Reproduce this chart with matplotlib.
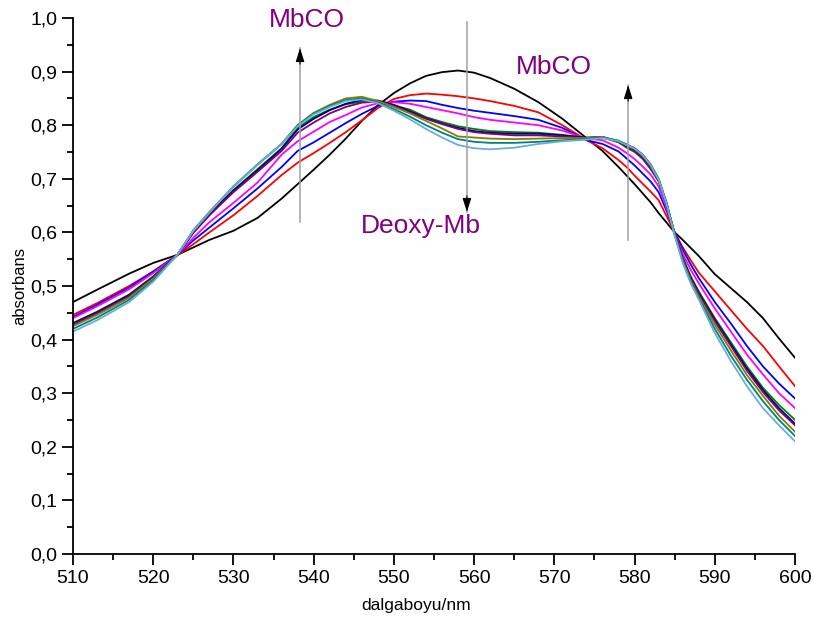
import numpy as np
import matplotlib.pyplot as plt
from matplotlib.ticker import MultipleLocator, FuncFormatter

plt.rcParams['font.family'] = ['Liberation Sans', 'DejaVu Sans']

## donnees
dalga = [510, 513, 517, 520, 523, 525, 527, 530, 533, 536, 538, 540, 542, 544, 546, 548,
         550, 552, 554, 556, 558, 560, 562, 565, 568, 571, 574, 576, 578, 579, 580, 581,
         582, 583, 584, 585, 586, 587, 588, 590, 592, 594, 596, 598, 600]

siyah = [.470, .493, .523, .543, .558, .572, .586, .603, .627, .663, .690, .717, .745, .775, .808, .837,
         .860, .878, .892, .899, .902, .898, .888, .868, .843, .812, .776, .752, .722, .706, .690, .673,
         .656, .636, .618, .600, .586, .571, .556, .522, .496, .470, .440, .402, .366]
kirmizi = [.446, .468, .500, .527, .557, .578, .600, .632, .668, .707, .730, .748, .767, .787, .809, .832,
           .849, .856, .859, .857, .854, .850, .845, .836, .824, .800, .772, .757, .735, .722, .706, .691,
           .676, .660, .630, .600, .572, .548, .525, .490, .455, .420, .388, .350, .313]
mavi = [.442, .465, .497, .527, .558, .585, .609, .645, .682, .722, .752, .768, .786, .804, .821, .836,
        .844, .846, .845, .838, .832, .827, .823, .817, .810, .795, .772, .765, .751, .738, .725, .710,
        .695, .675, .640, .600, .568, .540, .515, .470, .430, .388, .350, .318, .290]
pembe = [.440, .462, .494, .524, .558, .590, .619, .655, .693, .745, .770, .788, .806, .819, .833, .841,
         .843, .840, .834, .828, .822, .815, .810, .805, .800, .790, .775, .772, .758, .748, .737, .723,
         .708, .686, .645, .598, .560, .530, .505, .458, .415, .372, .335, .300, .272]
yesil = [.431, .452, .484, .518, .558, .600, .632, .679, .718, .757, .795, .815, .829, .839, .844, .843,
         .837, .829, .815, .806, .798, .793, .789, .787, .786, .782, .776, .777, .768, .758, .750, .737,
         .718, .695, .652, .597, .553, .518, .490, .440, .395, .350, .310, .278, .250]
lacivert = [.430, .451, .483, .517, .558, .601, .634, .678, .716, .756, .792, .812, .828, .840, .847, .846,
            .838, .826, .813, .803, .795, .789, .786, .784, .784, .781, .777, .778, .769, .761, .753, .740,
            .721, .698, .653, .597, .552, .515, .487, .437, .391, .346, .306, .272, .243]
mor = [.428, .449, .481, .516, .558, .599, .632, .675, .713, .752, .786, .805, .822, .834, .842, .844,
       .836, .824, .812, .802, .793, .787, .784, .781, .781, .779, .776, .778, .769, .760, .752, .739,
       .720, .697, .652, .596, .550, .513, .485, .434, .388, .342, .302, .268, .240]
zeytin = [.425, .446, .478, .514, .558, .603, .637, .685, .726, .765, .800, .823, .838, .850, .853, .845,
          .834, .822, .808, .794, .779, .777, .775, .774, .775, .776, .776, .778, .771, .764, .757, .745,
          .727, .700, .655, .596, .548, .510, .480, .428, .380, .334, .295, .258, .228]
camgobegi = [.420, .441, .474, .511, .558, .604, .638, .686, .727, .765, .800, .822, .836, .847, .850, .842,
             .830, .816, .800, .786, .774, .769, .767, .767, .769, .772, .774, .777, .771, .764, .757, .745,
             .726, .699, .654, .595, .546, .507, .477, .420, .370, .325, .285, .250, .220]
acikmavi = [.415, .436, .470, .508, .558, .603, .637, .686, .726, .765, .798, .820, .834, .845, .848, .841,
            .827, .811, .793, .777, .763, .757, .755, .758, .765, .770, .773, .776, .770, .763, .756, .744,
            .725, .698, .652, .594, .543, .505, .475, .412, .360, .313, .272, .240, .210]

egriler = [siyah, kirmizi, mavi, pembe, yesil, lacivert, mor, zeytin, camgobegi, acikmavi]
renkler = ['black', '#ff0000', '#0000ff', '#ff00ff', '#008000', '#000080', '#800080',
           '#808000', '#008080', '#6aaed6']

## figure
fig = plt.figure(figsize=(8.14, 6.21), dpi=100)
ax = fig.add_axes([0.0897, 0.108, 0.887, 0.863])

for y, c in zip(egriler, renkler):
    ax.plot(dalga, y, color=c, lw=1.3)

# fleches
gri = '#a0a0a0'
def fleche(x, y0, y1):
    ax.plot([x, x], [y0, y1], color=gri, lw=1.1)
    d = 0.03 if y1 > y0 else -0.03
    ax.annotate('', xy=(x, y1), xytext=(x, y1 - d),
                arrowprops=dict(arrowstyle='-|>,head_length=0.7,head_width=0.22',
                                color='black', lw=0.8, mutation_scale=12,
                                shrinkA=0, shrinkB=0))

fleche(538.3, 0.619, 0.944)
fleche(559.1, 0.993, 0.638)
fleche(579.2, 0.586, 0.875)

mor_txt = '#800080'
ax.text(539.1, 0.996, 'MbCO', color=mor_txt, fontsize=19, ha='center', va='center')
ax.text(569.9, 0.909, 'MbCO', color=mor_txt, fontsize=19, ha='center', va='center')
ax.text(553.3, 0.612, 'Deoxy-Mb', color=mor_txt, fontsize=19, ha='center', va='center')

ax.set_xlim(510, 600)
ax.set_ylim(0, 1.0)
ax.xaxis.set_major_locator(MultipleLocator(10))
ax.xaxis.set_minor_locator(MultipleLocator(5))
ax.yaxis.set_major_locator(MultipleLocator(0.1))
ax.yaxis.set_minor_locator(MultipleLocator(0.05))
ax.yaxis.set_major_formatter(FuncFormatter(lambda v, p: ('%.1f' % v).replace('.', ',')))
ax.tick_params(which='major', direction='out', length=8, width=1.3, labelsize=14)
ax.tick_params(which='minor', direction='out', length=4, width=1.3)
for s in ['top', 'right']:
    ax.spines[s].set_visible(False)
for s in ['left', 'bottom']:
    ax.spines[s].set_linewidth(1.3)

ax.set_xlabel('dalgaboyu/nm', fontsize=12.5)
ax.xaxis.set_label_coords(0.475, -0.083)
ax.set_ylabel('absorbans', fontsize=12, labelpad=2)

plt.savefig('out.png', dpi=100)
